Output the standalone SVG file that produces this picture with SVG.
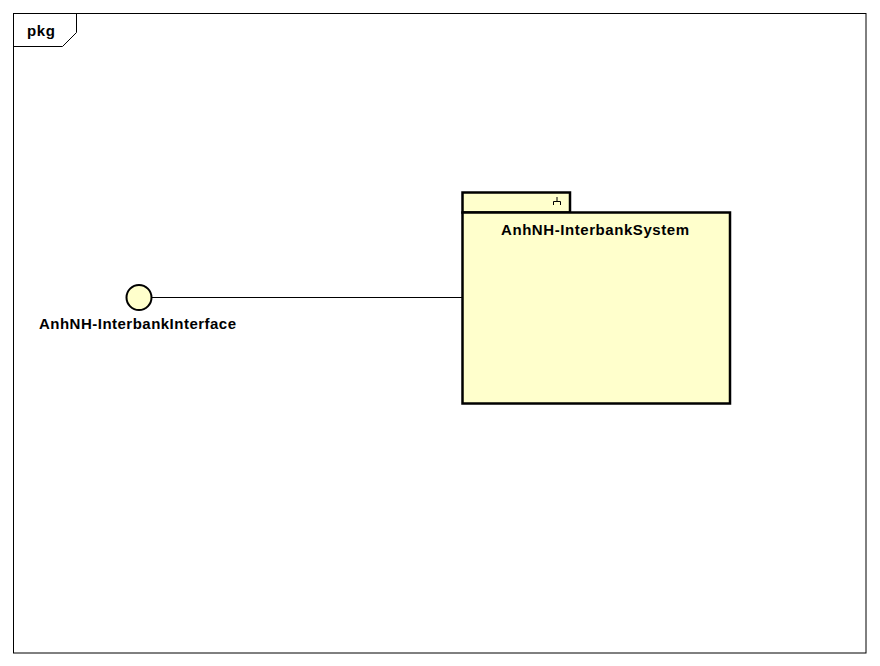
<svg xmlns="http://www.w3.org/2000/svg" width="880" height="666" viewBox="0 0 880 666">
<style>
.t{font-family:"Liberation Sans",Arial,sans-serif;font-size:15px;font-weight:bold;fill:#000}
.pk{fill:#FFFFCC;stroke:#000;stroke-width:2.5}
</style>
<rect x="0" y="0" width="880" height="666" fill="#fff"/>
<g id="frame">
<rect x="13.5" y="13.5" width="852.5" height="639.5" fill="#fff" stroke="#000" stroke-width="1"/>
<polyline points="13.5,46.5 62.5,46.5 76.5,32.5 76.5,13.5" fill="none" stroke="#000" stroke-width="1"/>
<text class="t" x="27" y="36" textLength="28" lengthAdjust="spacing">pkg</text>
</g>
<g id="connectors">
<line x1="152" y1="297.5" x2="462" y2="297.5" stroke="#000" stroke-width="1"/>
</g>
<g id="AnhNH-InterbankInterface">
<circle cx="139" cy="297.5" r="12.5" fill="#FFFFCC" stroke="#000" stroke-width="2"/>
<text class="t" x="39" y="329" textLength="197" lengthAdjust="spacing">AnhNH-InterbankInterface</text>
</g>
<g id="AnhNH-InterbankSystem">
<rect class="pk" x="462.5" y="192.5" width="107.5" height="20"/>
<rect class="pk" x="462.5" y="212.5" width="267.5" height="191"/>
<path d="M557,197 V201.5 M553.5,205 V201.5 H560.5 V205" fill="none" stroke="#000" stroke-width="1"/>
<text class="t" x="501" y="235" textLength="188" lengthAdjust="spacing">AnhNH-InterbankSystem</text>
</g>
</svg>
